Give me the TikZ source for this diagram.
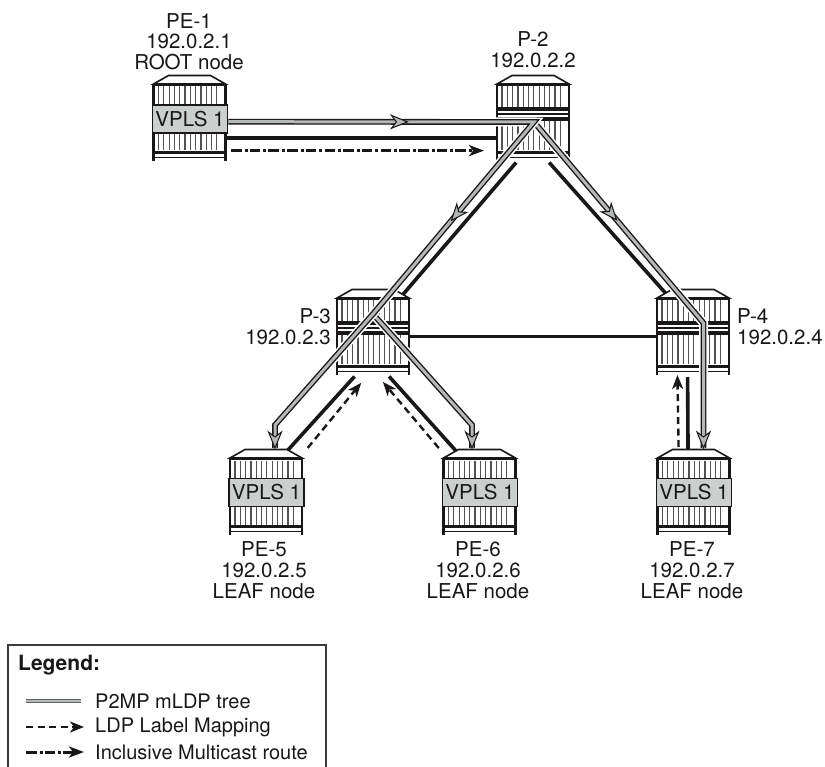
\documentclass[tikz,border=0pt]{standalone}
\usepackage{fontspec}
\setmainfont{TeX Gyre Heros}
\usetikzlibrary{arrows.meta,decorations.markings}
\definecolor{treegray}{HTML}{B4B8B7}
\definecolor{boxgray}{HTML}{CBCFCD}
\definecolor{inkblack}{HTML}{1A1718}

\newcommand{\routertop}{
  \fill[white] (-36,-38.5) rectangle (36,38.5);
  \filldraw[routerline,fill=white,line join=miter] (-36,-38.5) -- (-21,-47) -- (21,-47) -- (36,-38.5) -- cycle;
  \draw[routerside] (-36,-38.5) -- (-36,38.5);
  \draw[routerside] (36,-38.5) -- (36,38.5);
  \draw[routerband,line width=2.6pt] (-36,-38) -- (36,-38);
  \draw[routerband] (-36,30) -- (36,30);
  \draw[routerline] (-36,35) -- (36,35);
}
\newcommand{\treehead}{\filldraw[fill=treegray,draw=inkblack,line width=1pt,line join=miter] (0,0) -- (-16,-6.5) -- (-11,0) -- (-16,6.5) -- cycle;}

\begin{document}
\begin{tikzpicture}[x=1pt,y=-1pt]
\tikzset{
  routernode/.style={rectangle,inner sep=0pt,outer sep=0pt,minimum width=72pt,minimum height=77pt},
  routerline/.style={draw=inkblack,line width=1.6pt},
  routerhatch/.style={draw=inkblack!75,line width=1.2pt},
  routerside/.style={draw=inkblack,line width=2.2pt},
  routerband/.style={draw=inkblack,line width=3.6pt},
  vplsbox/.style={rectangle,draw=inkblack,line width=1.8pt,fill=boxgray,minimum width=75pt,minimum height=28pt,inner sep=0pt,text=inkblack,font=\fontsize{20.5}{20}\selectfont},
  routerlabel/.style={align=center,inner sep=0pt,text=inkblack,font=\fontsize{20.5}{20.7}\selectfont},
  legendtext/.style={anchor=west,inner sep=0pt,inner xsep=11pt,text=inkblack,font=\fontsize{20}{20}\selectfont},
  link/.style={draw=inkblack,line width=3.6pt},
  treeline/.style={draw=treegray,line width=3pt,
    preaction={draw=white,line width=9pt},
    preaction={draw=inkblack,line width=5.8pt}},
  treemarks/.style={postaction={decorate,decoration={markings,#1}}},
  mapping/.style={draw=inkblack,line width=2.4pt,dash pattern=on 7pt off 4.5pt,-{Stealth[length=14pt,width=11pt,inset=4pt,fill=inkblack]}},
  mcastroute/.style={draw=inkblack,line width=3pt,dash pattern=on 10.5pt off 3pt on 3pt off 2.2pt,-{Stealth[length=15pt,width=11pt,inset=4pt,fill=inkblack]}}
}
\useasboundingbox (0,0) rectangle (825,767);
% routers
\node[routernode] (n_pe1) at (189.5,122.5) {};
\node[routernode] (n_p2) at (533,122.5) {};
\node[routernode] (n_p3) at (373,336.5) {};
\node[routernode] (n_p4) at (693,336.5) {};
\node[routernode] (n_pe5) at (266,496.5) {};
\node[routernode] (n_pe6) at (479.5,496.5) {};
\node[routernode] (n_pe7) at (693.5,496.5) {};
% links
\draw[link] (n_pe1.-23.3) -- (n_p2.203.3);
\draw[link,shorten <=2pt] (n_p2.248.3) -- (n_p3.55.3);
\draw[link,shorten <=2pt] (n_p2.291.5) -- (n_p4.121.5);
\draw[link] (n_p3.east) -- (n_p4.west);
\draw[link,shorten >=2pt] (n_pe5.69) -- (n_p3.246);
\draw[link,shorten >=2pt] (n_pe6.114.4) -- (n_p3.291.3);
\draw[link,shorten <=2pt] (n_p4.262.6) -- (n_pe7.98.1);
\foreach \rn in {n_pe1,n_pe5,n_pe6,n_pe7} {
  \begin{scope}[shift={(\rn)}]
    \routertop
    \foreach \hx in {-31,-25.7,...,32} {\draw[routerhatch] (\hx,-36) -- (\hx,28);}
  \end{scope}
}
\foreach \rn in {n_p2,n_p3,n_p4} {
  \begin{scope}[shift={(\rn)}]
    \routertop
    \foreach \hx in {-31,-25.7,...,32} {
      \draw[routerhatch] (\hx,-36) -- (\hx,-15);
      \draw[routerhatch] (\hx,-2) -- (\hx,28);
    }
    \draw[routerband] (-36,-13.5) -- (36,-13.5);
    \draw[routerline] (-36,-8.5) -- (36,-8.5);
    \draw[routerband] (-36,-3.5) -- (36,-3.5);
  \end{scope}
}
% service boxes
\node[vplsbox] (n_vpls1) at (190,119) {VPLS 1};
\node[vplsbox] (n_vpls5) at (266.5,492.5) {VPLS 1};
\node[vplsbox] (n_vpls6) at (480,492.5) {VPLS 1};
\node[vplsbox] (n_vpls7) at (694,492.5) {VPLS 1};
% signalling
\draw[mcastroute,shorten <=5.5pt,shorten >=13pt] (n_pe1.-38.4) -- (n_p2.218.4);
\draw[mapping,shorten <=13pt,shorten >=10pt] (n_pe5.49.7) -- (n_p3.262);
\draw[mapping,shorten <=13pt,shorten >=9pt] (n_pe6.130.8) -- (n_p3.276);
\draw[mapping,shorten <=11pt] (n_pe7.111.9) -- (n_p4.248.7);
% tree
\coordinate (c_top) at (534,122);
\coordinate (c_mid) at (373,314);
\coordinate (c_bendr) at (703.5,323);
\coordinate (c_bend5) at (275,425);
\coordinate (c_bend6) at (472,425);
\coordinate (c_end5) at (275,448);
\coordinate (c_end6) at (472,448);
\coordinate (c_end7) at (703.5,448);
\draw[treeline,treemarks={mark=at position 128pt with {\treehead},mark=at position 1 with {\treehead}}] (c_top) -- (c_bendr) -- (c_end7);
\draw[treeline,treemarks={mark=at position 1 with {\treehead}}] (c_mid) -- (c_bend6) -- (c_end6);
\draw[treeline,treemarks={mark=at position 179pt with {\treehead},mark=at position 434pt with {\treehead},mark=at position 1 with {\treehead}}] (n_vpls1.-4.5) -- (c_top) -- (c_mid) -- (c_bend5) -- (c_end5);
% labels
\node[routerlabel] (n_lab1) at (189,41.5) {PE-1\\192.0.2.1\\ROOT node};
\node[routerlabel] (n_lab2) at (533,50) {P-2\\192.0.2.2};
\node[routerlabel,anchor=east,align=right] (n_lab3) at (331,326.5) {P-3\\192.0.2.3};
\node[routerlabel,anchor=west,align=left] (n_lab4) at (737,326.5) {P-4\\192.0.2.4};
\node[routerlabel] (n_lab5) at (264,570) {PE-5\\192.0.2.5\\LEAF node};
\node[routerlabel] (n_lab6) at (478,570) {PE-6\\192.0.2.6\\LEAF node};
\node[routerlabel] (n_lab7) at (692,570) {PE-7\\192.0.2.7\\LEAF node};
% legend
\draw[draw=inkblack!85,line width=1.3pt] (8,767) -- (8,645) -- (326,645) -- (326,767);
\node[legendtext,inner xsep=0pt,font=\fontsize{21}{20}\selectfont\bfseries] (n_legend) at (18,665) {Legend:};
\node[legendtext] (n_leg1) at (84,701) {P2MP mLDP tree};
\node[legendtext] (n_leg2) at (84,727) {LDP Label Mapping};
\node[legendtext] (n_leg3) at (84,752) {Inclusive Multicast route};
\coordinate (c_leg1) at (26,701);
\coordinate (c_leg2) at (26,727);
\coordinate (c_leg3) at (26,752);
\draw[draw=treegray!55!black,line width=1.6pt,double=treegray,double distance=1.2pt,shorten >=3pt] (c_leg1) -- (n_leg1.west);
\draw[mapping] (c_leg2) -- (n_leg2.west);
\draw[mcastroute] (c_leg3) -- (n_leg3.west);
\end{tikzpicture}
\end{document}
